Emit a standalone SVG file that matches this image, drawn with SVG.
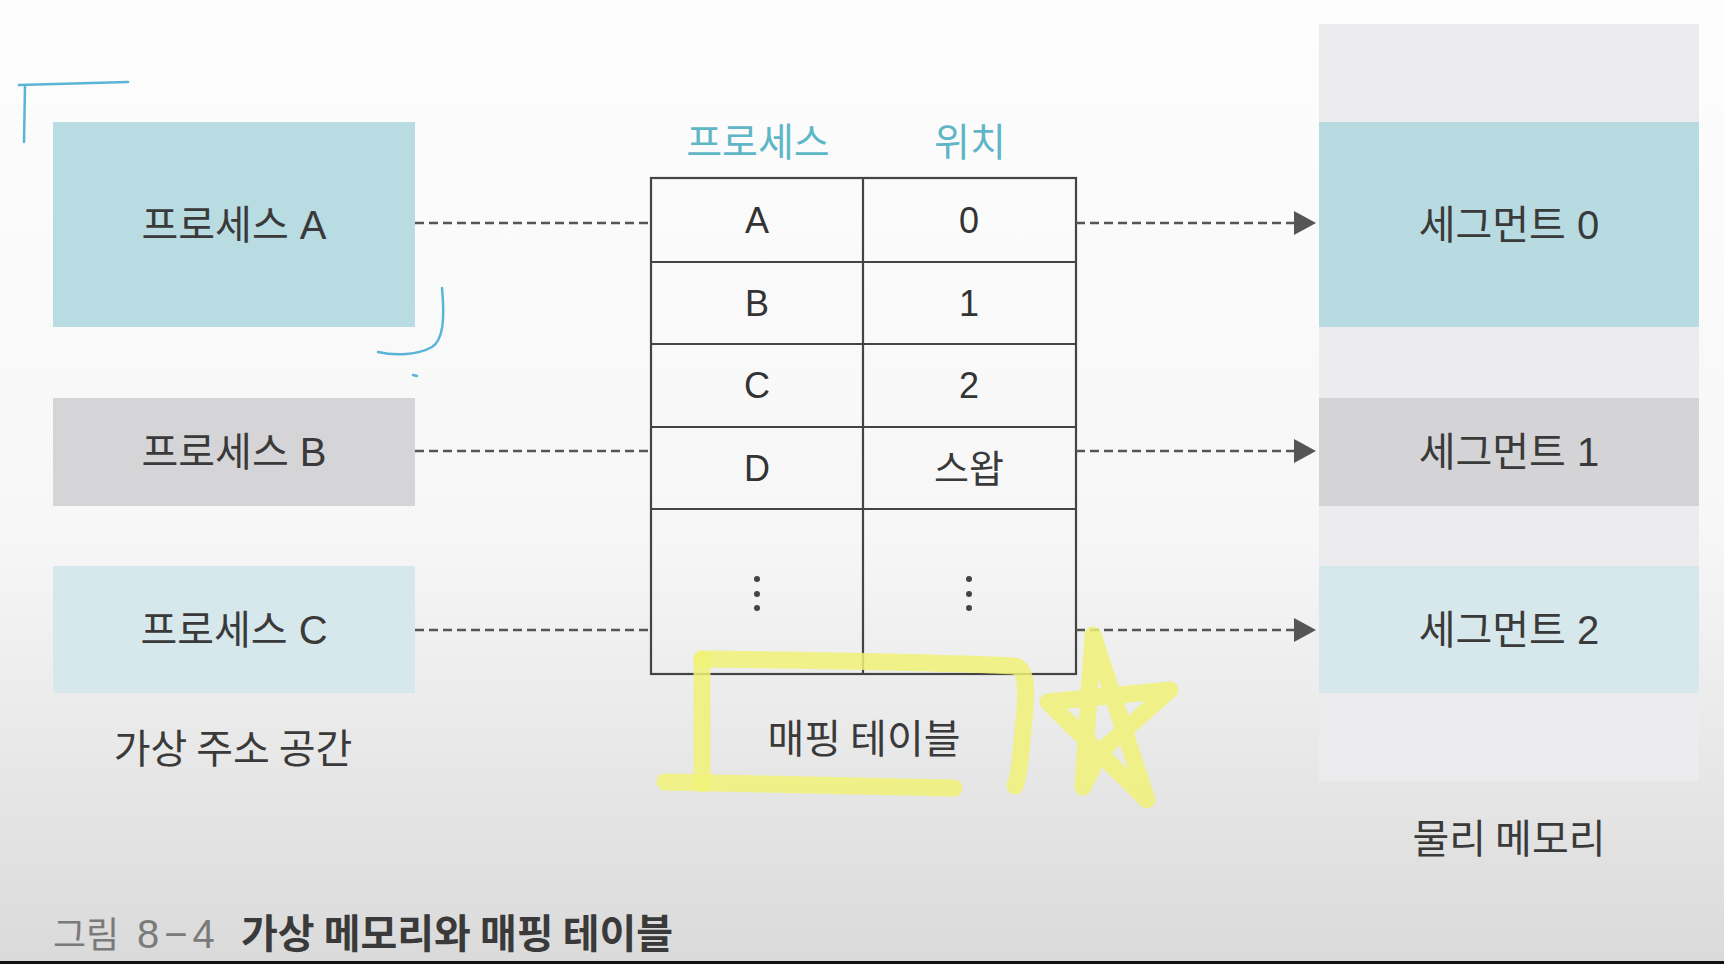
<svg xmlns="http://www.w3.org/2000/svg" width="1724" height="964" viewBox="0 0 1724 964">
  <defs>
    <linearGradient id="bg" x1="0" y1="0" x2="0" y2="1">
      <stop offset="0" stop-color="#fdfdfd"/>
      <stop offset="0.55" stop-color="#f7f7f7"/>
      <stop offset="1" stop-color="#dadada"/>
    </linearGradient>
    <marker id="arrow" markerUnits="userSpaceOnUse" markerWidth="22" markerHeight="24" refX="2" refY="12" orient="auto">
      <path d="M0,0 L22,12 L0,24 z" fill="#555"/>
    </marker>
    <style>
      .lbl { font-family: "Liberation Sans", "Noto Sans CJK KR", sans-serif; font-size: 40px; fill: #3a3a3a; text-anchor: middle; }
      .kr { font-family: "Noto Sans CJK KR", sans-serif; font-size: 40px; fill: #3a3a3a; text-anchor: middle; }
      .hdr { font-family: "Noto Sans CJK KR", sans-serif; font-size: 39px; fill: #5fb6c7; text-anchor: middle; }
      .cell { font-family: "Liberation Sans", "Noto Sans CJK KR", sans-serif; font-size: 36px; fill: #333; text-anchor: middle; }
      .dash { stroke: #555; stroke-width: 2.5; stroke-dasharray: 9 5; fill: none; }
      .grid { stroke: #444; stroke-width: 2.2; fill: none; }
      .blue { stroke: #5ab4d8; stroke-width: 2.5; fill: none; stroke-linecap: round; stroke-linejoin: round; }
      .hl { stroke: #f0f277; stroke-width: 17; fill: none; stroke-linecap: round; stroke-linejoin: round; opacity: 0.85; }
    </style>
  </defs>

  <rect x="0" y="0" width="1724" height="964" fill="url(#bg)"/>

  <!-- physical memory column -->
  <g id="physical-memory">
    <rect x="1319" y="24" width="380" height="757" fill="#ececee"/>
  </g>
  <g id="segment-0">
    <rect x="1319" y="122" width="380" height="205" fill="#b8dbe2"/>
    <text class="lbl" x="1509" y="239">세그먼트 0</text>
  </g>
  <g id="segment-1">
    <rect x="1319" y="398" width="380" height="108" fill="#d4d4d7"/>
    <text class="lbl" x="1509" y="466">세그먼트 1</text>
  </g>
  <g id="segment-2">
    <rect x="1319" y="566" width="380" height="127" fill="#d6e8ec"/>
    <text class="lbl" x="1509" y="644">세그먼트 2</text>
  </g>

  <!-- processes -->
  <g id="process-a">
    <rect x="53" y="122" width="362" height="205" fill="#b9dbe2"/>
    <text class="lbl" x="234" y="239">프로세스 A</text>
  </g>
  <g id="process-b">
    <rect x="53" y="398" width="362" height="108" fill="#d5d5d8"/>
    <text class="lbl" x="234" y="466">프로세스 B</text>
  </g>
  <g id="process-c">
    <rect x="53" y="566" width="362" height="127" fill="#d6e8ec"/>
    <text class="lbl" x="234" y="644">프로세스 C</text>
  </g>

  <!-- mapping table -->
  <g id="mapping-table">
    <text class="hdr" x="758" y="156">프로세스</text>
    <text class="hdr" x="970" y="156">위치</text>
    <rect x="651" y="178" width="425" height="496" fill="#ffffff" class="grid"/>
    <line class="grid" x1="863" y1="178" x2="863" y2="674"/>
    <line class="grid" x1="651" y1="262" x2="1076" y2="262"/>
    <line class="grid" x1="651" y1="344" x2="1076" y2="344"/>
    <line class="grid" x1="651" y1="427" x2="1076" y2="427"/>
    <line class="grid" x1="651" y1="509" x2="1076" y2="509"/>
    <text class="cell" x="757" y="233">A</text>
    <text class="cell" x="969" y="233">0</text>
    <text class="cell" x="757" y="316">B</text>
    <text class="cell" x="969" y="316">1</text>
    <text class="cell" x="757" y="398">C</text>
    <text class="cell" x="969" y="398">2</text>
    <text class="cell" x="757" y="481">D</text>
    <text class="kr" x="969" y="482" style="font-size:38px">스왑</text>
    <g fill="#444">
      <circle cx="757" cy="579" r="3"/>
      <circle cx="757" cy="594" r="3"/>
      <circle cx="757" cy="608" r="3"/>
      <circle cx="969" cy="579" r="3"/>
      <circle cx="969" cy="594" r="3"/>
      <circle cx="969" cy="608" r="3"/>
    </g>
  </g>

  <!-- connectors -->
  <g id="connectors">
    <line class="dash" x1="415" y1="223" x2="651" y2="223"/>
    <line class="dash" x1="415" y1="451" x2="651" y2="451"/>
    <line class="dash" x1="415" y1="630" x2="651" y2="630"/>
    <line class="dash" x1="1076" y1="223" x2="1296" y2="223" marker-end="url(#arrow)"/>
    <line class="dash" x1="1076" y1="451" x2="1296" y2="451" marker-end="url(#arrow)"/>
    <line class="dash" x1="1076" y1="630" x2="1296" y2="630" marker-end="url(#arrow)"/>
  </g>

  <!-- captions -->
  <g id="captions">
    <text class="kr" x="233" y="763">가상 주소 공간</text>
    <text class="kr" x="864" y="753">매핑 테이블</text>
    <text class="kr" x="1509" y="853">물리 메모리</text>
  </g>

  <g id="figure-title">
    <text x="53" y="948" font-family="Noto Sans CJK KR, sans-serif" font-size="36" fill="#7a7a7a">그림</text>
    <text x="137" y="948" font-family="Liberation Sans, sans-serif" font-size="40" fill="#7a7a7a" letter-spacing="5">8−4</text>
    <text x="241" y="948" font-family="Noto Sans CJK KR, sans-serif" font-size="40" font-weight="bold" fill="#3a3a3a">가상 메모리와 매핑 테이블</text>
  </g>

  <!-- hand-drawn annotations -->
  <g id="annotations">
    <path class="blue" d="M19,85 L128,82"/>
    <path class="blue" d="M25,86 L24,142"/>
    <path class="blue" d="M442,288 C445,320 443,340 432,347 C418,355 395,356 378,352"/>
    <path class="blue" d="M413,375 L417,376"/>
    <path class="hl" d="M702,659 C800,660 950,663 1015,666 C1030,670 1026,700 1022,740 C1020,765 1018,780 1015,786"/>
    <path class="hl" d="M702,659 L702,784"/>
    <path class="hl" d="M665,782 L954,788"/>
    <path class="hl" d="M1083,787 L1093,635 L1147,800 L1048,702 L1170,690 L1100,752 L1083,787"/>
  </g>

  <rect x="0" y="961" width="1724" height="3" fill="#111"/>
</svg>
